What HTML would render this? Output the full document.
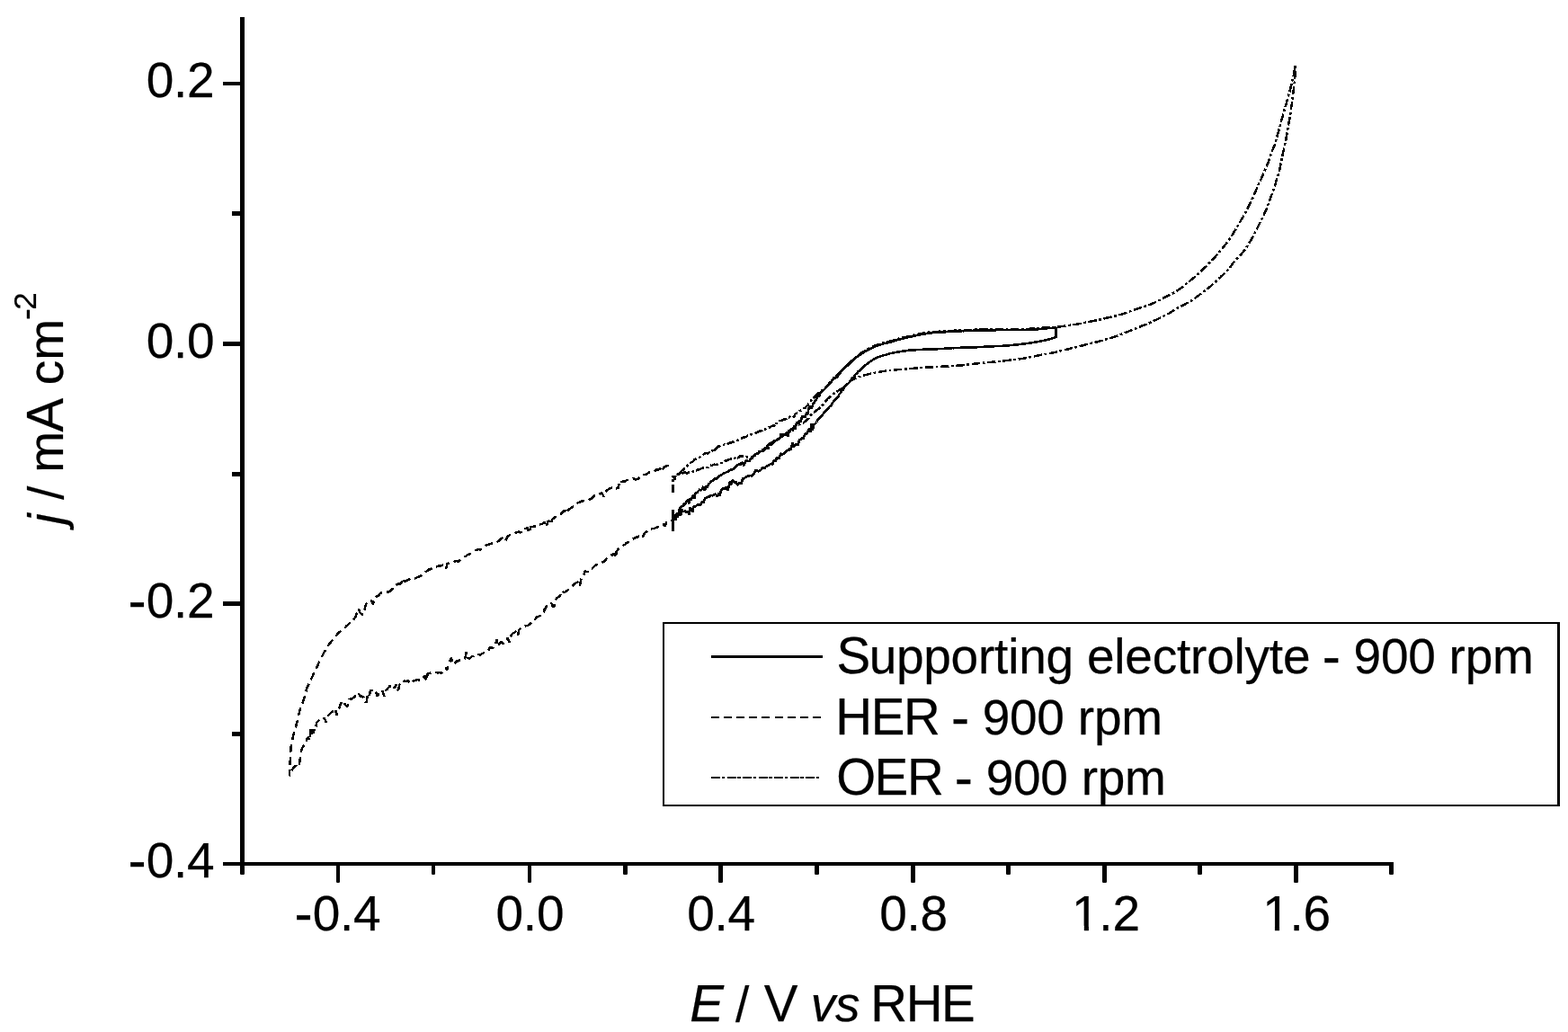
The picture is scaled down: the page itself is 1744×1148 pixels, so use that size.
<!DOCTYPE html>
<html lang="en"><head><meta charset="utf-8"><title>Cyclic voltammograms - 900 rpm</title>
<style>
html,body{margin:0;padding:0;background:#fff;width:1744px;height:1148px;overflow:hidden}
svg{display:block;position:absolute;left:0;top:0}
text{font-family:"Liberation Sans",Arial,Helvetica,sans-serif;fill:#000;stroke:#000;stroke-width:0.25px;stroke-linejoin:round}
.ax{fill:#000;shape-rendering:crispEdges}
.cv{fill:none;stroke:#000;stroke-linejoin:bevel;stroke-linecap:butt}
</style></head><body>
<svg width="1744" height="1148" viewBox="0 0 1744 1148">
<rect x="0" y="0" width="1744" height="1148" fill="#fff"/>

<g class="ax">
<rect x="267" y="19" width="5" height="944"/>
<rect x="248" y="959" width="1302" height="4"/>
<rect x="248" y="91" width="20" height="4"/>
<rect x="258" y="235" width="10" height="5"/>
<rect x="248" y="380" width="20" height="5"/>
<rect x="258" y="525" width="10" height="5"/>
<rect x="248" y="669" width="20" height="5"/>
<rect x="258" y="814" width="10" height="5"/>
</g>
<g fill="#000">
<path d="M267 961V971.8Q267 973 268.2 973H270.8Q272 973 272 971.8V961z"/>
<path d="M374 961V980.8Q374 982 375.2 982H376.8Q378 982 378 980.8V961z"/>
<path d="M480 961V971.8Q480 973 481.2 973H482.8Q484 973 484 971.8V961z"/>
<path d="M587 961V980.8Q587 982 588.2 982H589.8Q591 982 591 980.8V961z"/>
<path d="M693 961V971.8Q693 973 694.2 973H696.8Q698 973 698 971.8V961z"/>
<path d="M799 961V980.8Q799 982 800.2 982H802.8Q804 982 804 980.8V961z"/>
<path d="M906 961V971.8Q906 973 907.2 973H909.8Q911 973 911 971.8V961z"/>
<path d="M1013 961V980.8Q1013 982 1014.2 982H1016.8Q1018 982 1018 980.8V961z"/>
<path d="M1119 961V971.8Q1119 973 1120.2 973H1122.8Q1124 973 1124 971.8V961z"/>
<path d="M1226 961V980.8Q1226 982 1227.2 982H1229.8Q1231 982 1231 980.8V961z"/>
<path d="M1332 961V971.8Q1332 973 1333.2 973H1335.8Q1337 973 1337 971.8V961z"/>
<path d="M1439 961V980.8Q1439 982 1440.2 982H1442.8Q1444 982 1444 980.8V961z"/>
<path d="M1545 961V971.8Q1545 973 1546.2 973H1548.8Q1550 973 1550 971.8V961z"/>
</g>
<text transform="translate(0.00 107.60)" font-size="55.0px" x="162.65 192.91 208.02" y="0" xml:space="preserve">0.2</text>
<text transform="translate(0.00 397.60)" font-size="55.0px" x="162.65 192.91 208.02" y="0" xml:space="preserve">0.0</text>
<text transform="translate(0.00 686.60)" font-size="55.0px" xml:space="preserve"><tspan x="142.61" y="2.36" font-size="60.5px">-</tspan><tspan x="162.65 192.91 208.02" y="0.00">0.2</tspan></text>
<text transform="translate(0.00 975.60)" font-size="55.0px" xml:space="preserve"><tspan x="142.61" y="2.36" font-size="60.5px">-</tspan><tspan x="162.65 192.91 208.02" y="0.00">0.4</tspan></text>
<text transform="translate(0.00 1034.60)" font-size="55.0px" xml:space="preserve"><tspan x="327.61" y="2.36" font-size="60.5px">-</tspan><tspan x="347.65 377.91 393.02" y="0.00">0.4</tspan></text>
<text transform="translate(551.52 1034.60)" font-size="55.0px" x="0.00 30.25 45.37" y="0" xml:space="preserve">0.0</text>
<text transform="translate(764.15 1034.60)" font-size="55.0px" x="0.00 30.25 45.37" y="0" xml:space="preserve">0.4</text>
<text transform="translate(978.14 1034.60)" font-size="55.0px" x="0.00 30.25 45.37" y="0" xml:space="preserve">0.8</text>
<text transform="translate(1192.11 1034.60)" font-size="55.0px" x="0.00 30.25 45.37" y="0" xml:space="preserve">1.2</text>
<rect x="1195.30" y="1029.89" width="10.51" height="6.71" fill="#fff"/>
<rect x="1210.93" y="1029.89" width="10.08" height="6.71" fill="#fff"/>
<text transform="translate(1404.24 1034.60)" font-size="55.0px" x="0.00 30.25 45.37" y="0" xml:space="preserve">1.6</text>
<rect x="1407.42" y="1029.89" width="10.51" height="6.71" fill="#fff"/>
<rect x="1423.06" y="1029.89" width="10.08" height="6.71" fill="#fff"/>
<text transform="translate(0.00 1136.00)" font-size="55.0px" xml:space="preserve"><tspan x="767.26" y="0.00" font-style="italic" font-size="56.5px">E</tspan><tspan x="803.55 817.90 833.01" y="0.00"> / </tspan><tspan x="849.65" y="0.00" font-size="56.5px">V</tspan><tspan x="885.94" y="0.00"> </tspan><tspan x="901.69 928.89" y="0.00" font-style="italic">vs</tspan><tspan x="956.09" y="0.00"> </tspan><tspan x="968.37 1007.65 1046.94" y="0.00" font-size="56.5px">RHE</tspan></text>
<text transform="translate(70.00 589.70) rotate(-90)" font-size="55.0px" xml:space="preserve"><tspan x="6.15" y="0.00" font-style="italic">j</tspan><tspan x="18.24 33.65 48.76 64.05" y="0.00"> / m</tspan><tspan x="109.29" y="0.00" font-size="56.5px">A</tspan><tspan x="145.57 161.46 189.05" y="0.00"> cm</tspan><tspan x="233.69" y="-28.00" font-size="38.5px">-</tspan><tspan x="244.87" y="-30.00" font-size="35.0px">2</tspan></text>
<g class="ax">
<rect x="737" y="692" width="998" height="2"/>
<rect x="737" y="895" width="998" height="2"/>
<rect x="737" y="692" width="2" height="205"/>
<rect x="1732" y="692" width="3" height="205"/>
<rect x="791" y="729" width="124" height="3"/>
</g>
<g class="cv" stroke-width="2" shape-rendering="crispEdges">
<path d="M791 798H914.5" stroke-dasharray="9 5.1"/>
<path d="M791 865H912" stroke-dasharray="10 1.5 3.8 2.2"/>
</g>
<text transform="translate(0.00 749.00)" font-size="55.0px" xml:space="preserve"><tspan x="930.43" y="0.00" font-size="56.5px">S</tspan><tspan x="966.76 997.05 1027.33 1057.62 1087.91 1106.05 1121.18 1133.28 1163.56 1193.85 1208.98 1239.27 1251.37 1281.66 1308.89 1324.02 1342.16 1372.44 1384.54 1411.77 1426.90 1457.19" y="0.00">upporting electrolyte </tspan><tspan x="1470.81" y="2.36" font-size="60.5px">-</tspan><tspan x="1490.46 1505.59 1535.88 1566.16 1596.45 1611.58 1629.72 1660.01" y="0.00"> 900 rpm</tspan></text>
<text transform="translate(0.00 817.00)" font-size="55.0px" xml:space="preserve"><tspan x="929.37 968.69 1005.02" y="0.00" font-size="56.5px">HER</tspan><tspan x="1044.35" y="0.00"> </tspan><tspan x="1057.96" y="2.36" font-size="60.5px">-</tspan><tspan x="1077.61 1092.75 1123.03 1153.32 1183.61 1198.74 1216.88 1247.16" y="0.00"> 900 rpm</tspan></text>
<text transform="translate(0.00 884.00)" font-size="55.0px" xml:space="preserve"><tspan x="930.22 972.58 1008.91" y="0.00" font-size="56.5px">OER</tspan><tspan x="1048.24" y="0.00"> </tspan><tspan x="1061.85" y="2.36" font-size="60.5px">-</tspan><tspan x="1081.50 1096.64 1126.92 1157.21 1187.50 1202.63 1220.77 1251.05" y="0.00"> 900 rpm</tspan></text>
<g class="cv" stroke-width="2.5" shape-rendering="crispEdges">
<path id="her" stroke-dasharray="9 5" d="M743.7 517.6 741.6 518.0 739.7 519.3 738.3 519.9 736.1 524.7 734.3 521.1 732.4 522.6 730.9 522.2 729.3 523.0 727.8 524.7 726.1 525.2 723.8 524.8 722.1 525.5 720.1 526.7 718.1 528.1 716.6 527.9 714.7 528.1 713.2 530.1 711.5 530.8 710.1 532.6 708.4 533.0 706.8 533.4 705.1 532.4 703.3 532.8 700.9 532.8 699.3 533.9 697.5 533.9 695.3 535.6 693.6 535.4 691.4 536.1 690.3 540.8 688.7 538.7 687.9 539.9 687.5 543.2 686.3 543.2 684.8 543.9 683.5 542.3 682.0 542.2 680.3 542.6 678.3 543.4 676.7 544.5 674.8 545.4 673.4 547.4 671.5 552.6 669.5 548.1 667.9 548.9 665.9 550.3 663.8 550.7 662.1 550.9 660.3 552.2 658.9 553.4 657.1 555.3 655.5 555.5 653.5 556.6 651.8 557.3 649.8 556.9 647.4 557.5 646.0 557.9 644.0 559.0 642.3 559.5 640.6 560.7 639.0 562.6 637.1 563.8 635.7 564.6 633.8 566.2 632.1 566.7 630.4 571.3 628.3 567.6 626.5 568.7 624.9 570.6 623.5 572.1 621.7 572.4 620.3 573.2 618.4 574.4 616.4 576.2 614.6 577.0 612.8 583.4 611.1 579.3 609.4 580.2 607.7 586.2 605.9 580.6 604.1 582.2 602.1 583.2 600.4 583.3 598.4 583.7 596.3 585.3 594.4 585.3 592.6 586.1 590.6 585.8 588.4 592.7 586.7 586.4 585.0 588.2 582.9 588.0 581.3 588.6 579.1 592.6 577.5 591.4 575.5 592.2 574.0 592.4 571.9 593.5 570.2 594.6 568.0 594.7 566.4 595.6 564.3 597.2 562.4 601.4 560.7 602.0 558.9 598.2 557.2 599.5 555.6 601.2 554.0 602.0 552.2 603.5 550.6 603.8 548.7 603.9 546.5 604.8 544.6 605.2 542.9 606.1 540.9 606.4 539.1 608.0 537.8 609.7 536.1 609.8 534.2 611.5 532.2 610.9 530.3 611.8 528.5 612.0 526.3 612.7 524.8 613.8 523.3 615.7 521.4 616.7 519.6 617.4 518.1 619.0 516.5 619.3 514.8 621.1 513.2 622.4 511.5 623.3 509.5 624.8 507.8 624.0 505.8 624.7 503.7 625.1 501.7 626.2 499.9 626.9 497.8 626.5 496.0 632.4 493.8 627.9 492.2 628.6 490.1 629.8 488.1 629.2 486.5 630.1 484.3 631.1 482.6 631.0 480.4 632.3 478.8 633.3 477.0 633.3 475.3 635.0 473.6 636.0 471.9 637.1 470.4 638.1 468.8 639.7 467.2 641.2 465.2 641.8 463.5 642.5 461.6 643.3 459.3 643.8 457.5 643.5 455.6 644.4 454.1 644.9 452.0 645.8 450.0 647.0 448.3 643.4 446.6 648.1 444.8 649.8 442.9 649.5 440.9 650.5 439.6 652.4 438.0 653.0 436.4 655.2 434.9 656.5 433.4 657.9 431.9 658.4 429.8 658.2 428.0 658.8 425.7 659.1 423.8 659.4 422.4 660.5 421.0 662.8 419.6 663.2 418.1 664.5 416.4 666.0 414.8 672.2 413.1 667.8 411.1 669.0 409.4 669.8 408.0 670.7 407.0 672.1 406.5 674.1 406.1 675.8 405.3 678.7 404.9 679.4 404.5 681.4 403.7 683.6 402.4 683.4 401.7 682.5 400.4 681.4 398.8 676.9 397.7 681.0 396.6 682.7 395.9 685.3 394.9 687.0 393.9 688.4 392.5 690.7 391.3 692.2 389.8 692.2 388.3 693.7 386.7 695.3 385.2 696.5 383.5 698.4 382.0 699.4 380.5 699.9 379.0 702.0 377.5 703.1 376.1 704.7 374.7 706.0 373.4 707.8 372.2 709.0 370.8 710.5 369.6 712.2 368.3 713.7 367.0 715.5 365.7 717.1 364.6 718.4 363.5 720.1 362.4 721.9 361.6 723.7 360.6 725.5 359.7 727.2 358.8 728.9 357.9 731.1 357.1 732.9 356.1 734.4 355.2 736.2 354.3 738.1 353.5 740.1 352.5 742.0 351.6 743.7 350.8 745.2 350.0 747.1 349.1 748.9 348.3 750.6 347.4 752.7 346.6 754.3 345.7 756.1 344.8 758.0 343.9 760.0 343.0 761.9 342.2 763.4 341.4 765.5 340.8 767.2 340.4 769.1 339.9 770.9 339.4 773.0 338.9 775.0 338.3 777.1 337.6 779.1 337.0 780.6 336.3 782.6 335.6 784.6 334.8 786.5 334.0 788.3 333.4 790.2 333.0 792.0 332.5 794.1 332.1 796.1 331.6 798.0 331.2 800.2 330.8 802.1 330.2 804.0 329.7 805.6 329.2 807.7 328.7 810.0 328.1 811.8 327.4 813.4 327.0 815.4 326.4 817.6 325.9 819.6 325.5 821.4 325.2 823.5 324.8 825.6 324.4 827.4 324.0 829.5 323.6 831.3 323.4 833.2 323.3 835.3 323.2 837.1 323.0 839.4 323.0 841.4 322.8 843.4 322.8 845.3 322.7 847.2 322.6 849.1 322.5 851.3 322.4 853.1 322.2 855.5 322.1 857.2 322.0 859.1 321.8 861.4 321.8 863.3 322.6 861.2 323.5 860.0 324.2 857.6 325.0 855.8 326.2 854.6 327.2 853.0 328.7 851.7 329.9 851.8 330.9 852.7 331.9 853.3 332.4 853.1 332.9 851.4 333.1 849.4 333.3 847.2 333.6 845.0 334.0 842.8 334.3 841.2 334.7 839.6 334.9 836.7 335.2 835.0 335.6 833.4 336.8 830.7 337.6 830.1 338.5 827.6 340.0 826.7 340.3 825.0 341.5 822.3 342.3 820.7 342.9 819.7 343.9 824.0 344.9 820.7 345.8 809.0 346.7 816.8 347.8 809.5 348.9 815.4 349.9 807.7 351.3 808.6 352.1 804.3 353.7 802.0 355.4 801.1 357.5 799.8 359.4 800.5 360.9 798.8 362.6 803.7 364.0 796.8 365.7 795.3 367.2 793.6 369.1 792.1 370.9 790.9 372.8 788.2 374.4 795.9 376.0 789.7 377.5 787.3 379.4 781.4 380.4 785.4 382.2 784.2 383.5 783.0 385.1 785.0 386.5 786.1 388.4 778.1 389.9 777.2 391.6 777.5 393.3 775.9 395.4 774.3 397.2 774.3 398.8 771.2 400.9 775.0 402.5 774.4 404.1 775.3 405.3 777.5 405.9 778.4 406.5 781.2 407.2 781.1 407.7 781.0 407.8 779.5 408.0 777.0 408.6 776.1 408.7 773.9 409.5 771.0 410.8 773.5 412.1 768.2 413.9 768.2 415.9 767.1 417.5 767.5 419.8 774.7 421.8 769.1 423.6 768.2 425.7 769.1 427.4 774.9 428.8 767.8 430.4 766.9 431.7 765.5 433.5 763.2 435.1 763.6 436.8 761.6 438.9 765.9 440.9 761.1 442.9 768.2 444.4 761.7 446.1 759.5 448.0 759.8 449.3 757.2 451.2 757.9 453.0 757.4 454.4 757.3 456.1 760.5 458.4 758.9 460.0 757.6 461.9 757.1 463.7 756.0 465.3 756.0 467.1 757.0 468.8 755.6 470.6 755.0 471.5 753.3 472.5 751.2 474.3 757.8 475.7 748.9 477.6 748.9 479.5 748.5 481.3 747.9 482.8 747.8 484.8 747.9 486.9 748.6 488.5 747.8 490.3 748.9 491.8 748.0 493.5 746.4 494.8 745.1 496.3 743.1 497.2 745.8 498.2 739.9 499.9 737.8 501.5 731.9 503.4 736.2 505.3 739.3 507.4 735.2 509.0 735.7 510.8 734.5 513.1 734.1 515.0 734.4 516.9 733.8 518.7 725.4 520.8 732.6 522.7 732.2 524.3 730.5 526.7 729.8 528.2 729.0 530.1 729.9 532.3 727.9 533.9 728.6 536.4 727.1 538.2 726.2 539.8 725.6 542.0 725.6 543.2 723.6 544.6 720.0 546.1 720.7 547.6 721.0 548.9 719.6 550.7 718.3 552.3 711.6 554.1 719.3 555.8 714.9 557.9 714.5 559.7 716.0 561.3 711.7 563.3 710.9 564.8 709.4 566.3 714.4 567.5 708.2 569.3 705.8 570.9 704.3 572.4 703.5 574.3 701.8 576.1 706.4 577.5 700.3 579.3 698.8 580.8 698.7 582.7 697.6 584.6 696.2 586.7 696.1 588.4 694.7 590.1 694.1 591.1 692.1 592.5 691.0 593.4 688.9 595.3 688.8 596.8 686.6 598.9 685.7 600.7 685.0 602.0 684.9 603.6 682.6 604.2 681.2 605.3 680.2 605.5 677.6 607.0 676.4 607.9 674.1 609.7 673.6 611.6 673.2 613.3 670.9 614.7 674.9 616.3 674.3 617.9 667.7 619.1 665.5 620.7 664.3 622.3 663.3 623.5 661.6 625.3 656.9 627.0 659.4 628.3 658.5 630.0 657.5 631.6 656.3 633.4 654.9 634.9 653.8 636.2 652.1 637.7 650.6 639.3 649.2 640.8 648.2 642.3 647.7 643.6 646.3 645.0 651.5 646.5 643.1 648.0 640.9 649.5 639.4 650.5 635.0 652.0 635.9 653.7 635.9 655.1 633.9 656.9 632.3 658.7 632.3 660.1 631.0 661.8 629.3 663.5 628.3 665.6 628.1 667.4 628.0 669.3 627.1 670.9 624.6 672.3 624.9 673.7 622.4 675.1 621.2 676.1 619.3 678.0 619.2 679.7 617.2 681.4 617.4 683.0 615.5 684.6 621.0 685.8 613.3 687.4 611.1 688.9 610.0 690.4 609.0 691.6 608.1 693.6 606.3 695.3 606.0 696.7 603.8 698.3 603.5 700.2 603.0 702.2 600.3 703.9 599.4 705.3 599.2 707.4 597.5 709.3 597.7 710.9 596.0 713.0 595.0 714.6 597.5 716.5 594.0 717.7 592.3 719.7 591.0 721.3 589.9 722.6 588.9 724.3 588.3 726.6 588.2 728.5 587.5 730.4 586.6 731.9 586.2 734.1 584.1 735.6 583.9 737.6 583.1 739.5 585.3 741.3 580.8 743.2 579.7 744.7 580.3 746.7 578.8 748.5 578.0"/>
<path id="oer" stroke-dasharray="9.4 2.6 2.8 2.6" d="M748.5 548.0 748.5 529.5 750.3 533.2 751.4 529.0 752.9 528.2 754.2 528.1 755.9 526.6 757.1 526.8 758.4 526.6 759.9 526.3 761.3 525.4 762.8 525.6 764.2 526.5 765.7 525.6 767.2 525.5 768.9 525.4 770.1 525.4 771.5 523.9 773.3 523.4 774.6 523.4 775.8 522.4 777.2 522.6 778.6 522.0 780.4 521.1 781.8 520.5 782.9 520.2 784.6 520.0 785.9 520.1 787.4 519.8 788.9 518.7 790.2 517.7 791.7 517.8 793.2 517.2 794.4 516.5 796.0 517.2 797.6 516.8 799.1 516.1 800.5 515.6 801.6 515.0 802.9 515.1 804.6 514.6 805.6 514.0 807.2 512.2 808.6 512.5 809.9 511.4 811.6 510.9 813.1 510.5 814.6 511.0 815.9 509.7 817.0 510.1 818.4 508.3 820.0 508.5 821.2 509.8 822.6 507.3 824.2 508.0 825.6 506.8 827.0 507.8 828.5 508.5 830.0 508.2 831.5 508.7 833.0 508.6 834.3 508.1 835.9 509.2 837.3 508.6 838.4 507.1 839.4 507.2 840.6 505.6 842.0 504.6 843.4 502.3 844.6 502.9 846.0 503.6 847.1 501.7 848.4 501.9 849.9 500.2 850.8 500.4 851.6 498.6 852.5 497.7 853.5 496.4 854.4 499.2 855.8 494.2 857.2 495.5 858.5 493.7 859.8 492.8 860.8 492.0 862.1 490.2 863.3 489.4 864.6 488.4 865.8 488.1 867.0 486.7 868.3 485.9 869.5 485.9 870.9 485.0 872.4 484.1 873.5 483.5 874.9 484.5 876.0 481.2 877.1 480.0 878.2 479.7 879.4 481.1 880.7 478.2 881.7 476.5 882.7 475.1 883.8 474.3 885.2 473.3 886.3 474.7 887.8 473.0 888.9 472.4 890.4 471.7 891.8 471.0 893.4 470.8 894.6 469.2 895.5 469.2 896.9 467.6 897.9 466.5 899.0 465.7 899.7 465.2 900.6 463.4 901.5 462.2 902.5 461.1 903.6 460.1 904.7 459.1 905.9 458.2 907.1 457.3 908.3 456.4 909.5 455.5 910.7 454.6 911.8 453.6 912.9 452.6 914.0 451.5 915.1 450.5 916.1 449.4 917.0 448.2 917.9 447.0 918.8 445.8 919.7 444.6 920.7 443.5 921.8 442.5 922.9 441.5 924.0 440.5 925.2 439.6 926.4 438.7 927.6 437.8 928.8 436.9 930.1 436.0 931.3 435.2 932.6 434.5 933.9 433.7 935.2 433.0 936.4 432.1 937.6 431.3 938.8 430.3 939.8 429.2 940.9 428.2 942.0 427.2 943.1 426.2 944.3 425.2 945.5 424.3 946.7 423.4 947.9 422.5 949.2 421.8 950.5 421.1 951.9 420.5 953.3 420.0 954.7 419.4 956.1 419.0 957.5 418.5 959.0 418.1 960.4 417.7 961.9 417.3 963.3 416.9 964.8 416.5 966.3 416.2 967.7 415.9 969.2 415.5 970.7 415.2 972.1 414.9 973.6 414.6 975.1 414.3 976.6 414.0 978.0 413.8 979.5 413.5 981.0 413.2 982.5 413.0 984.0 412.7 985.4 412.5 986.9 412.4 988.4 412.2 989.9 412.1 991.4 411.9 992.9 411.8 994.4 411.6 995.9 411.5 997.4 411.3 998.9 411.2 1000.4 411.1 1001.9 411.0 1003.4 410.9 1004.9 410.7 1006.4 410.6 1007.9 410.5 1009.4 410.4 1010.9 410.2 1012.4 410.1 1013.9 409.9 1015.4 409.8 1016.9 409.6 1018.4 409.5 1019.9 409.3 1021.4 409.2 1022.9 409.1 1024.4 409.0 1025.9 408.9 1027.4 408.8 1028.9 408.7 1030.4 408.7 1031.9 408.6 1033.4 408.5 1034.9 408.4 1036.4 408.4 1037.9 408.3 1039.4 408.2 1040.9 408.1 1042.4 408.1 1043.9 408.0 1045.4 407.9 1046.9 407.8 1048.4 407.7 1049.9 407.7 1051.4 407.6 1052.9 407.5 1054.4 407.4 1055.9 407.3 1057.4 407.2 1058.9 407.1 1060.4 407.0 1061.9 406.9 1063.4 406.8 1064.9 406.7 1066.4 406.6 1067.9 406.5 1069.4 406.4 1070.9 406.2 1072.4 406.0 1073.9 405.8 1075.4 405.7 1076.9 405.5 1078.4 405.3 1079.9 405.1 1081.4 405.0 1082.8 404.8 1084.3 404.6 1085.8 404.5 1087.3 404.3 1088.8 404.2 1090.3 404.0 1091.8 403.9 1093.3 403.7 1094.8 403.6 1096.3 403.4 1097.8 403.3 1099.3 403.1 1100.8 403.0 1102.3 402.8 1103.8 402.7 1105.3 402.5 1106.8 402.4 1108.3 402.2 1109.8 402.1 1111.3 401.9 1112.8 401.8 1114.3 401.6 1115.8 401.5 1117.3 401.3 1118.8 401.2 1120.2 401.0 1121.7 400.8 1123.2 400.6 1124.7 400.5 1126.2 400.3 1127.7 400.1 1129.2 399.9 1130.7 399.7 1132.2 399.6 1133.7 399.4 1135.2 399.2 1136.7 399.0 1138.1 398.7 1139.6 398.5 1141.1 398.2 1142.6 397.9 1144.0 397.6 1145.5 397.3 1147.0 397.0 1148.5 396.7 1149.9 396.4 1151.4 396.1 1152.9 395.8 1154.4 395.5 1155.8 395.2 1157.3 395.0 1158.8 394.7 1160.3 394.4 1161.8 394.2 1163.2 393.9 1164.7 393.6 1166.2 393.4 1167.7 393.1 1169.2 392.8 1170.6 392.5 1172.1 392.2 1173.6 391.9 1175.0 391.6 1176.5 391.2 1178.0 390.8 1179.4 390.5 1180.9 390.1 1182.3 389.7 1183.8 389.4 1185.2 389.0 1186.7 388.6 1188.2 388.3 1189.6 387.9 1191.1 387.5 1192.5 387.2 1194.0 386.8 1195.5 386.5 1196.9 386.1 1198.4 385.7 1199.8 385.4 1201.3 385.0 1202.8 384.6 1204.2 384.3 1205.7 383.9 1207.1 383.5 1208.6 383.2 1210.0 382.8 1211.5 382.4 1213.0 382.1 1214.4 381.7 1215.9 381.3 1217.3 381.0 1218.8 380.6 1220.3 380.3 1221.7 379.9 1223.2 379.5 1224.6 379.1 1226.1 378.7 1227.5 378.3 1228.9 377.8 1230.4 377.4 1231.8 377.0 1233.3 376.5 1234.7 376.1 1236.1 375.7 1237.6 375.2 1239.0 374.8 1240.5 374.3 1241.9 373.8 1243.3 373.3 1244.7 372.8 1246.1 372.2 1247.5 371.7 1248.9 371.1 1250.3 370.6 1251.7 370.0 1253.1 369.4 1254.5 368.9 1255.9 368.3 1257.3 367.8 1258.6 367.2 1260.0 366.6 1261.4 366.1 1262.8 365.5 1264.2 365.0 1265.6 364.4 1267.0 363.9 1268.4 363.3 1269.8 362.7 1271.2 362.2 1272.6 361.6 1274.0 361.1 1275.4 360.5 1276.8 359.9 1278.2 359.3 1279.5 358.7 1280.9 358.1 1282.3 357.4 1283.6 356.8 1285.0 356.2 1286.3 355.5 1287.7 354.9 1289.0 354.2 1290.4 353.5 1291.8 352.9 1293.1 352.2 1294.5 351.6 1295.8 350.9 1297.2 350.3 1298.5 349.6 1299.8 348.9 1301.1 348.1 1302.4 347.3 1303.7 346.5 1304.9 345.7 1306.2 344.9 1307.5 344.1 1308.8 343.3 1310.1 342.6 1311.4 341.8 1312.7 341.1 1314.0 340.5 1315.4 339.8 1316.7 339.1 1318.1 338.4 1319.4 337.7 1320.7 336.9 1322.0 336.2 1323.3 335.4 1324.6 334.7 1325.8 333.9 1327.1 333.0 1328.3 332.2 1329.6 331.3 1330.8 330.4 1332.0 329.5 1333.2 328.6 1334.4 327.7 1335.6 326.8 1336.8 325.9 1338.0 325.0 1339.2 324.1 1340.4 323.2 1341.6 322.3 1342.8 321.4 1343.9 320.4 1345.1 319.5 1346.3 318.5 1347.4 317.6 1348.6 316.6 1349.7 315.6 1350.9 314.6 1352.0 313.6 1353.1 312.6 1354.2 311.6 1355.2 310.5 1356.3 309.4 1357.4 308.4 1358.4 307.3 1359.5 306.3 1360.6 305.3 1361.8 304.3 1362.9 303.3 1364.0 302.3 1365.0 301.2 1366.0 300.1 1367.0 298.9 1367.9 297.7 1368.8 296.5 1369.7 295.3 1370.5 294.1 1371.4 292.9 1372.3 291.7 1373.3 290.5 1374.3 289.4 1375.3 288.3 1376.4 287.3 1377.5 286.2 1378.5 285.1 1379.5 284.0 1380.5 282.9 1381.5 281.7 1382.4 280.6 1383.4 279.4 1384.3 278.2 1385.2 277.0 1386.0 275.8 1386.8 274.5 1387.6 273.2 1388.4 271.9 1389.2 270.6 1389.9 269.4 1390.7 268.1 1391.5 266.8 1392.3 265.5 1393.0 264.2 1393.8 262.9 1394.5 261.6 1395.2 260.2 1395.8 258.9 1396.5 257.5 1397.2 256.2 1397.9 254.8 1398.5 253.5 1399.2 252.2 1399.9 250.8 1400.5 249.5 1401.2 248.1 1401.9 246.8 1402.6 245.4 1403.2 244.1 1403.9 242.7 1404.6 241.4 1405.2 240.0 1405.9 238.7 1406.5 237.3 1407.1 236.0 1407.7 234.6 1408.3 233.2 1408.9 231.8 1409.5 230.4 1410.0 229.0 1410.5 227.6 1411.1 226.2 1411.6 224.8 1412.1 223.4 1412.6 221.9 1413.1 220.5 1413.6 219.1 1414.1 217.7 1414.6 216.3 1415.1 214.9 1415.6 213.4 1416.1 212.0 1416.6 210.6 1417.1 209.2 1417.5 207.8 1418.0 206.3 1418.4 204.9 1418.9 203.4 1419.3 202.0 1419.8 200.6 1420.2 199.1 1420.6 197.7 1421.1 196.3 1421.5 194.8 1422.0 193.4 1422.4 191.9 1422.8 190.5 1423.1 189.0 1423.5 187.6 1423.8 186.1 1424.1 184.6 1424.4 183.2 1424.7 181.7 1425.0 180.2 1425.3 178.7 1425.5 177.2 1425.8 175.8 1426.1 174.3 1426.4 172.8 1426.7 171.3 1427.0 169.9 1427.4 168.4 1427.8 167.0 1428.1 165.5 1428.4 164.0 1428.8 162.6 1429.1 161.1 1429.4 159.6 1429.7 158.2 1430.0 156.7 1430.3 155.2 1430.6 153.7 1430.8 152.2 1431.1 150.8 1431.3 149.3 1431.6 147.8 1431.8 146.3 1432.1 144.8 1432.3 143.3 1432.6 141.9 1432.8 140.4 1433.1 138.9 1433.4 137.4 1433.6 135.9 1433.9 134.5 1434.2 133.0 1434.4 131.5 1434.7 130.0 1434.9 128.5 1435.2 127.1 1435.4 125.6 1435.6 124.1 1435.8 122.6 1436.0 121.1 1436.2 119.6 1436.4 118.1 1436.7 116.6 1436.9 115.1 1437.1 113.7 1437.3 112.2 1437.5 110.7 1437.7 109.2 1437.8 107.7 1438.0 106.2 1438.2 104.7 1438.4 103.2 1438.6 101.7 1438.8 100.2 1439.0 98.7 1439.2 97.3 1439.3 95.8 1439.5 94.3 1439.7 92.8 1439.8 91.3 1439.9 89.8 1440.1 88.3 1440.2 86.8 1440.3 85.3 1440.5 83.8 1440.5 82.3 1440.6 80.8 1440.6 79.3 1440.6 77.8 1440.5 76.3 1440.5 75.1 1440.4 73.3 1440.4 73.3 1440.2 75.1 1440.0 76.3 1439.8 77.7 1439.6 79.2 1439.4 80.7 1439.1 82.2 1438.8 83.7 1438.4 85.1 1438.1 86.6 1437.7 88.0 1437.4 89.5 1437.0 91.0 1436.7 92.4 1436.4 93.9 1436.1 95.4 1435.7 96.8 1435.4 98.3 1435.0 99.8 1434.6 101.2 1434.2 102.7 1433.8 104.1 1433.4 105.6 1433.0 107.0 1432.6 108.4 1432.1 109.9 1431.7 111.3 1431.3 112.8 1430.9 114.2 1430.5 115.7 1430.1 117.1 1429.7 118.6 1429.3 120.0 1428.8 121.5 1428.4 122.9 1428.0 124.4 1427.6 125.8 1427.2 127.2 1426.8 128.7 1426.4 130.1 1425.9 131.6 1425.5 133.0 1425.1 134.5 1424.7 135.9 1424.4 137.4 1424.0 138.8 1423.6 140.3 1423.2 141.8 1422.8 143.2 1422.5 144.7 1422.1 146.1 1421.6 147.6 1421.2 149.0 1420.8 150.4 1420.4 151.9 1420.0 153.3 1419.6 154.8 1419.2 156.2 1418.8 157.7 1418.3 159.1 1417.9 160.6 1417.4 162.0 1416.9 163.4 1416.3 164.8 1415.7 166.2 1415.1 167.5 1414.5 168.9 1414.0 170.3 1413.5 171.7 1413.0 173.1 1412.5 174.6 1412.1 176.0 1411.6 177.4 1411.2 178.9 1410.7 180.3 1410.1 181.7 1409.6 183.1 1409.0 184.5 1408.5 185.9 1407.9 187.3 1407.2 188.6 1406.6 190.0 1406.0 191.4 1405.4 192.7 1404.8 194.1 1404.3 195.5 1403.7 196.9 1403.0 198.3 1402.4 199.6 1401.7 201.0 1401.1 202.3 1400.4 203.7 1399.8 205.0 1399.2 206.4 1398.6 207.8 1398.0 209.2 1397.4 210.6 1396.9 212.0 1396.3 213.4 1395.7 214.7 1395.1 216.1 1394.6 217.5 1394.0 218.9 1393.4 220.3 1392.7 221.6 1392.1 223.0 1391.4 224.4 1390.7 225.7 1390.1 227.0 1389.4 228.4 1388.7 229.7 1388.0 231.1 1387.3 232.4 1386.6 233.7 1385.9 235.1 1385.2 236.4 1384.5 237.7 1383.8 239.0 1383.1 240.3 1382.3 241.6 1381.5 242.9 1380.8 244.2 1380.0 245.5 1379.2 246.8 1378.4 248.1 1377.6 249.4 1376.9 250.7 1376.1 251.9 1375.3 253.3 1374.6 254.6 1373.9 255.9 1373.1 257.2 1372.3 258.5 1371.6 259.8 1370.8 261.0 1370.0 262.3 1369.1 263.5 1368.3 264.8 1367.5 266.0 1366.6 267.3 1365.7 268.5 1364.8 269.7 1363.9 270.9 1363.0 272.1 1362.0 273.2 1361.1 274.4 1360.1 275.6 1359.2 276.7 1358.2 277.9 1357.2 279.0 1356.3 280.2 1355.3 281.4 1354.3 282.5 1353.4 283.6 1352.4 284.8 1351.4 285.9 1350.4 287.0 1349.3 288.1 1348.3 289.2 1347.3 290.3 1346.3 291.4 1345.2 292.5 1344.2 293.6 1343.1 294.6 1342.1 295.7 1341.0 296.8 1339.9 297.8 1338.9 298.9 1337.8 299.9 1336.7 301.0 1335.6 302.0 1334.5 303.0 1333.4 304.0 1332.3 305.0 1331.1 306.0 1330.0 307.0 1328.9 308.0 1327.7 309.0 1326.5 309.9 1325.4 310.9 1324.2 311.8 1323.0 312.8 1321.9 313.7 1320.7 314.7 1319.5 315.6 1318.4 316.6 1317.2 317.5 1316.1 318.5 1314.9 319.4 1313.7 320.4 1312.5 321.3 1311.3 322.1 1310.0 323.0 1308.8 323.8 1307.5 324.6 1306.2 325.4 1304.9 326.1 1303.6 326.8 1302.2 327.5 1300.9 328.1 1299.6 328.8 1298.2 329.5 1296.9 330.2 1295.5 330.8 1294.2 331.5 1292.8 332.2 1291.5 332.9 1290.2 333.6 1288.8 334.3 1287.5 335.0 1286.2 335.7 1284.8 336.4 1283.5 337.0 1282.1 337.6 1280.7 338.1 1279.3 338.7 1277.9 339.2 1276.5 339.7 1275.0 340.2 1273.6 340.7 1272.2 341.1 1270.8 341.6 1269.4 342.1 1267.9 342.6 1266.5 343.1 1265.1 343.6 1263.7 344.0 1262.2 344.5 1260.8 345.0 1259.4 345.5 1258.0 346.0 1256.6 346.5 1255.1 347.0 1253.7 347.5 1252.3 348.0 1250.9 348.5 1249.5 349.0 1248.0 349.4 1246.6 349.9 1245.1 350.3 1243.7 350.7 1242.2 351.1 1240.8 351.5 1239.3 351.8 1237.9 352.1 1236.4 352.4 1234.9 352.7 1233.4 353.1 1232.0 353.4 1230.5 353.8 1229.1 354.1 1227.6 354.5 1226.1 354.9 1224.7 355.2 1223.2 355.6 1221.7 355.9 1220.3 356.2 1218.8 356.5 1217.3 356.8 1215.8 357.1 1214.4 357.4 1212.9 357.7 1211.4 358.0 1210.0 358.2 1208.5 358.5 1207.0 358.8 1205.5 359.1 1204.1 359.4 1202.6 359.7 1201.1 360.0 1199.6 360.3 1198.1 360.6 1196.7 360.8 1195.2 361.0 1193.7 361.2 1192.2 361.5 1190.7 361.7 1189.2 361.9 1187.7 362.1 1186.2 362.3 1184.8 362.5 1183.3 362.7 1181.8 362.9 1180.3 363.2 1178.8 363.4 1177.3 363.6 1175.8 363.8 1174.3 364.0 1172.8 364.1 1171.3 364.2 1169.8 364.2 1168.3 364.3 1166.8 364.3 1165.3 364.3 1163.8 364.4 1162.3 364.5 1160.8 364.6 1159.3 364.7 1157.8 364.9 1156.3 365.0 1154.8 365.2 1153.3 365.3 1151.8 365.4 1150.3 365.5 1148.8 365.6 1147.3 365.6 1145.8 365.7 1144.3 365.8 1142.8 365.8 1141.3 365.8 1139.8 365.9 1138.3 365.9 1136.8 365.9 1135.3 366.0 1133.8 366.0 1132.3 366.0 1130.8 366.1 1129.3 366.1 1127.8 366.1 1126.3 366.1 1124.8 366.1 1123.3 366.1 1121.8 366.1 1120.3 366.1 1118.8 366.1 1117.3 366.1 1115.8 366.1 1114.3 366.1 1112.8 366.1 1111.3 366.1 1109.8 366.1 1108.2 366.2 1106.7 366.2 1105.2 366.2 1103.7 366.2 1102.2 366.3 1100.7 366.3 1099.2 366.3 1097.7 366.4 1096.2 366.4 1094.7 366.4 1093.2 366.5 1091.7 366.5 1090.2 366.5 1088.7 366.6 1087.2 366.6 1085.7 366.7 1084.2 366.7 1082.7 366.8 1081.2 366.8 1079.7 366.9 1078.2 366.9 1076.7 367.0 1075.2 367.0 1073.7 367.1 1072.2 367.2 1070.7 367.2 1069.2 367.3 1067.7 367.4 1066.2 367.5 1064.7 367.5 1063.2 367.6 1061.7 367.7 1060.2 367.8 1058.7 367.9 1057.1 367.9 1055.6 368.0 1054.1 368.1 1052.6 368.2 1051.1 368.3 1049.6 368.4 1048.1 368.5 1046.6 368.6 1045.1 368.7 1043.6 368.8 1042.1 368.9 1040.6 369.0 1039.1 369.1 1037.6 369.2 1036.1 369.3 1034.6 369.4 1033.1 369.6 1031.7 369.8 1030.2 370.0 1028.7 370.3 1027.2 370.6 1025.8 370.9 1024.3 371.2 1022.8 371.5 1021.3 371.8 1019.9 372.1 1018.4 372.4 1016.9 372.7 1015.4 373.0 1014.0 373.3 1012.5 373.7 1011.0 374.0 1009.6 374.3 1008.1 374.7 1006.6 375.0 1005.2 375.4 1003.7 375.7 1002.2 376.0 1000.8 376.4 999.3 376.7 997.9 377.1 996.4 377.5 995.0 378.0 993.6 378.5 992.2 379.0 990.7 379.4 989.3 379.8 987.8 380.1 986.3 380.5 984.9 380.8 983.4 381.1 982.0 381.5 980.5 381.9 979.1 382.4 977.7 382.9 976.3 383.4 974.8 383.9 973.4 384.5 972.1 385.0 970.7 385.6 969.3 386.3 968.0 386.9 966.6 387.6 965.3 388.3 964.0 389.0 962.7 389.8 961.4 390.5 960.1 391.3 958.8 392.1 957.6 392.9 956.4 393.8 955.2 394.7 954.0 395.7 952.8 396.6 951.7 397.6 950.5 398.6 949.4 399.5 948.3 400.5 947.1 401.5 946.0 402.6 944.9 403.6 943.8 404.6 942.7 405.6 941.6 406.6 940.4 407.6 939.3 408.6 938.3 409.7 937.2 410.7 936.2 411.8 935.1 412.9 934.1 414.0 933.1 415.1 932.1 416.2 931.1 417.3 930.0 418.4 929.0 419.5 927.9 420.5 926.8 421.6 925.8 422.7 924.7 423.8 923.7 424.9 922.7 426.0 921.7 427.1 920.7 428.2 919.6 429.3 918.6 430.4 917.5 431.4 916.5 432.5 915.4 433.5 914.2 434.4 913.0 435.2 911.8 436.1 910.7 437.0 909.7 437.9 908.6 438.9 907.7 440.0 906.6 441.1 905.5 442.0 904.3 443.0 903.3 444.0 902.3 445.2 901.5 446.4 900.7 447.6 899.9 449.0 898.9 449.7 897.8 451.7 897.0 451.6 895.8 453.6 894.5 453.9 893.2 454.9 892.2 455.6 891.1 456.7 889.4 456.8 888.5 458.1 887.2 459.0 885.6 459.9 884.2 460.7 883.0 464.4 881.6 462.3 880.5 462.1 879.0 463.2 877.9 464.3 876.1 464.6 874.8 465.5 873.5 466.2 872.2 466.7 870.8 466.7 869.5 468.0 867.9 467.7 866.8 468.4 865.8 470.4 864.3 470.9 863.2 471.5 861.9 474.6 860.6 472.7 859.1 474.2 857.9 474.2 856.5 475.5 855.1 475.5 853.8 476.1 852.4 477.2 851.1 477.5 849.7 477.1 848.1 478.8 846.8 479.4 845.5 479.3 843.8 480.0 842.4 481.0 841.4 481.3 839.7 482.0 838.3 482.4 837.1 483.2 835.7 483.2 834.2 483.6 832.8 484.2 831.3 484.5 830.0 485.9 828.4 486.5 827.2 486.4 825.7 487.5 824.4 487.8 823.1 487.8 821.5 489.3 820.1 489.7 818.7 490.4 817.4 490.9 816.2 491.6 814.6 491.2 813.4 492.5 812.0 492.0 810.5 493.3 808.9 494.0 807.6 494.8 805.9 494.3 804.5 495.2 803.3 495.2 801.6 495.5 800.4 496.6 799.3 496.4 798.0 497.3 796.8 498.8 795.9 499.8 794.9 500.9 793.7 499.2 792.1 501.7 791.0 503.3 789.4 502.9 787.7 504.4 786.6 504.5 785.0 504.0 783.6 504.8 782.5 505.7 781.1 506.5 779.8 507.8 778.4 508.5 777.2 509.2 775.9 509.2 774.9 510.2 773.4 510.9 771.9 511.6 771.0 513.4 769.6 513.8 768.5 514.7 767.6 516.0 766.4 517.1 765.0 517.5 764.0 519.0 762.9 519.2 761.7 520.0 760.5 522.1 759.6 522.9 758.4 523.5 757.5 525.5 756.4 525.7 755.6 528.8 754.0 527.3 753.0 528.4 751.7 529.8 750.4 529.8 748.8 530.1"/>
<path id="sol" stroke-width="2.6" d="M748.5 567.0 748.5 590.7 748.5 577.0 749.6 575.9 751.1 575.6 751.8 572.2 752.1 572.6 753.3 570.9 754.5 572.7 755.2 569.3 755.6 566.4 756.5 564.8 757.9 564.1 758.4 563.0 759.6 562.8 760.5 561.7 760.9 559.5 761.8 561.5 763.1 558.3 764.2 557.7 765.1 555.8 766.2 560.2 767.8 554.6 768.6 556.0 770.4 552.6 771.3 550.6 772.8 554.9 773.4 548.1 775.2 548.0 776.1 547.1 777.0 546.0 778.5 544.3 779.0 545.7 780.4 544.7 781.9 541.8 782.5 541.4 783.8 545.9 785.4 540.4 786.9 542.1 788.2 537.6 789.1 538.2 790.3 536.4 791.3 535.0 793.1 534.3 793.8 534.1 795.3 531.7 796.5 532.8 797.7 531.7 798.9 530.9 800.3 528.8 801.7 529.1 802.3 528.2 804.0 527.1 805.3 526.1 806.6 526.2 807.6 525.3 809.2 524.8 810.4 524.5 812.0 522.7 813.3 523.1 814.3 521.9 816.0 521.5 817.4 519.9 818.2 519.7 819.9 517.7 821.2 517.0 822.2 515.8 823.4 517.5 824.9 514.3 826.2 515.2 827.7 518.1 829.1 512.9 830.2 512.2 831.9 512.9 833.1 513.2 834.2 512.0 835.4 509.2 836.6 510.3 837.2 507.7 838.8 506.1 840.2 505.2 840.9 504.9 842.2 503.9 843.7 504.8 844.9 502.3 846.7 502.0 847.6 501.6 848.8 499.8 850.3 499.4 850.9 497.6 851.8 498.9 853.3 496.1 853.9 495.1 855.2 495.0 856.1 492.8 857.3 493.1 858.7 492.3 859.7 492.1 861.6 489.9 862.2 490.7 863.8 489.6 865.0 488.6 866.2 488.3 867.4 487.3 868.8 482.7 870.4 484.3 871.4 483.1 872.4 483.2 873.6 482.6 875.4 480.8 876.8 485.6 877.7 477.8 878.5 480.0 879.7 477.3 880.8 477.2 881.8 479.1 883.4 473.6 884.3 477.4 885.2 472.6 886.1 470.3 887.7 470.7 888.2 469.4 889.6 468.3 890.6 470.0 891.5 465.1 892.1 463.7 893.2 462.7 894.3 463.6 895.2 464.4 896.2 461.5 897.5 458.1 898.1 461.7 899.1 456.3 900.3 451.6 901.0 454.2 902.1 453.4 902.4 454.1 903.8 451.7 904.8 448.2 905.4 448.4 906.2 446.5 907.3 445.6 907.9 444.1 908.7 442.8 909.8 439.9 910.4 441.0 911.3 440.1 912.1 437.9 912.7 436.5 913.9 435.5 914.9 435.4 916.1 433.7 917.0 433.0 918.3 431.9 919.1 430.5 920.3 428.9 921.6 427.8 922.2 427.3 923.4 425.6 924.3 425.7 925.3 423.4 926.4 422.6 927.6 419.5 928.5 420.7 929.7 419.5 930.9 419.2 931.8 419.4 932.9 416.3 933.8 415.9 934.7 414.7 936.0 412.9 936.7 412.5 937.8 410.4 938.9 409.8 939.9 408.3 941.2 407.4 942.3 406.3 943.6 406.2 944.6 405.1 945.8 403.7 946.9 403.5 947.9 401.5 948.9 400.3 950.1 399.5 951.4 398.2 952.4 397.2 953.9 396.7 954.8 396.1 955.8 394.9 957.4 394.3 958.4 392.7 959.9 392.8 961.0 391.7 962.3 390.9 963.6 390.2 965.0 389.5 966.3 388.8 967.6 388.1 969.0 387.4 970.4 386.8 971.7 386.2 973.1 385.6 974.5 385.0 975.9 384.5 977.3 384.0 978.8 383.5 980.2 383.0 981.6 382.6 983.1 382.2 984.6 381.9 986.0 381.5 987.5 381.2 989.0 380.9 990.4 380.5 991.9 380.1 993.3 379.6 994.7 379.1 996.1 378.6 997.6 378.2 999.0 377.8 1000.5 377.4 1002.0 377.1 1003.4 376.8 1004.9 376.4 1006.4 376.1 1007.8 375.8 1009.3 375.4 1010.8 375.1 1012.2 374.7 1013.7 374.4 1015.2 374.0 1016.6 373.7 1018.1 373.4 1019.6 373.1 1021.1 372.8 1022.5 372.5 1024.0 372.2 1025.5 372.0 1027.0 371.7 1028.5 371.4 1029.9 371.1 1031.4 370.8 1032.9 370.6 1034.4 370.5 1035.9 370.3 1037.4 370.2 1038.9 370.1 1040.4 370.0 1041.9 369.9 1043.4 369.8 1044.9 369.7 1046.4 369.6 1047.9 369.5 1049.4 369.4 1050.9 369.3 1052.4 369.2 1053.9 369.1 1055.5 369.0 1057.0 368.9 1058.5 368.9 1060.0 368.8 1061.5 368.7 1063.0 368.6 1064.5 368.5 1066.0 368.5 1067.5 368.4 1069.0 368.3 1070.5 368.2 1072.0 368.2 1073.5 368.1 1075.0 368.0 1076.5 368.0 1078.0 367.9 1079.5 367.9 1081.0 367.8 1082.5 367.8 1084.1 367.7 1085.6 367.7 1087.1 367.6 1088.6 367.6 1090.1 367.6 1091.6 367.5 1093.1 367.5 1094.6 367.4 1096.1 367.4 1097.6 367.4 1099.1 367.3 1100.6 367.3 1102.1 367.3 1103.6 367.3 1105.1 367.2 1106.6 367.2 1108.2 367.2 1109.7 367.1 1111.2 367.1 1112.7 367.1 1114.2 367.1 1115.7 367.1 1117.2 367.1 1118.7 367.1 1120.2 367.1 1121.7 367.1 1123.2 367.1 1124.7 367.1 1126.2 367.1 1127.7 367.1 1129.2 367.1 1130.8 367.1 1132.3 367.0 1133.8 367.0 1135.3 367.0 1136.8 366.9 1138.3 366.9 1139.8 366.9 1141.3 366.8 1142.8 366.8 1144.3 366.8 1145.8 366.7 1147.3 366.6 1148.8 366.6 1150.3 366.5 1151.8 366.4 1153.3 366.3 1154.8 366.2 1156.3 366.0 1157.8 365.9 1159.3 365.7 1160.8 365.6 1162.3 365.4 1163.8 365.3 1165.3 365.2 1166.8 365.1 1168.3 365.0 1169.8 364.8 1171.3 364.7 1172.5 364.6 1174.4 364.5 1174.6 364.5 1174.6 375.8 1174.4 375.0 1172.7 375.6 1171.5 376.0 1170.1 376.5 1168.7 377.0 1167.2 377.4 1165.8 377.7 1164.3 378.1 1162.8 378.4 1161.4 378.8 1159.9 379.1 1158.4 379.4 1157.0 379.7 1155.5 379.9 1154.0 380.2 1152.5 380.5 1151.0 380.7 1149.5 380.9 1148.0 381.2 1146.6 381.4 1145.1 381.6 1143.6 381.9 1142.1 382.1 1140.6 382.3 1139.1 382.5 1137.6 382.7 1136.1 382.8 1134.6 383.0 1133.1 383.2 1131.6 383.3 1130.1 383.5 1128.6 383.6 1127.1 383.8 1125.6 383.9 1124.1 384.1 1122.6 384.2 1121.1 384.4 1119.6 384.5 1118.1 384.6 1116.6 384.7 1115.1 384.8 1113.6 384.8 1112.1 384.9 1110.6 385.0 1109.1 385.1 1107.6 385.1 1106.1 385.2 1104.6 385.3 1103.1 385.4 1101.6 385.4 1100.1 385.5 1098.6 385.6 1097.1 385.7 1095.6 385.7 1094.1 385.8 1092.6 385.9 1091.1 386.0 1089.6 386.0 1088.0 386.1 1086.5 386.2 1085.0 386.2 1083.5 386.3 1082.0 386.4 1080.5 386.4 1079.0 386.4 1077.5 386.5 1076.0 386.5 1074.5 386.6 1073.0 386.6 1071.5 386.7 1070.0 386.7 1068.5 386.8 1067.0 386.8 1065.5 386.9 1064.0 387.0 1062.5 387.1 1061.0 387.2 1059.5 387.2 1058.0 387.3 1056.5 387.4 1055.0 387.5 1053.4 387.6 1051.9 387.7 1050.4 387.8 1048.9 387.8 1047.4 387.9 1045.9 388.0 1044.4 388.1 1042.9 388.2 1041.4 388.2 1039.9 388.3 1038.4 388.4 1036.9 388.4 1035.4 388.5 1033.9 388.6 1032.4 388.6 1030.9 388.7 1029.4 388.7 1027.9 388.7 1026.4 388.8 1024.9 388.8 1023.4 388.9 1021.9 389.0 1020.4 389.1 1018.8 389.2 1017.3 389.3 1015.8 389.4 1014.3 389.5 1012.8 389.6 1011.3 389.7 1009.8 389.9 1008.3 390.1 1006.9 390.3 1005.4 390.5 1003.9 390.7 1002.4 390.9 1000.9 391.2 999.4 391.4 997.9 391.6 996.4 391.9 995.0 392.2 993.5 392.4 992.0 392.8 990.5 393.1 989.1 393.5 987.6 393.9 986.2 394.3 984.8 394.8 983.3 395.2 981.9 395.6 980.4 396.0 979.0 396.5 977.6 397.0 976.2 397.6 974.8 398.2 973.5 398.9 972.2 399.6 970.9 400.3 969.6 401.1 968.3 402.0 967.1 402.8 965.9 403.7 964.7 404.6 963.5 405.6 962.3 406.5 961.2 407.5 960.1 408.5 959.0 409.5 958.1 410.4 956.8 412.1 955.8 412.6 954.7 413.0 953.8 414.6 952.5 416.0 951.4 416.4 950.5 417.8 949.5 419.8 948.5 420.2 947.5 421.2 946.6 423.2 945.7 423.9 944.6 425.3 943.8 426.2 942.7 427.3 941.6 427.8 940.7 429.0 939.5 430.3 938.7 432.0 937.7 434.3 936.6 433.8 935.7 435.2 934.9 436.9 934.0 438.3 933.3 438.5 932.6 442.1 931.7 441.4 930.5 442.9 929.8 443.7 928.7 444.3 927.8 446.2 926.9 446.8 926.0 448.3 925.1 449.3 924.2 451.6 923.0 451.7 922.3 452.8 921.2 454.2 920.3 455.0 919.1 456.6 918.0 457.8 917.0 458.6 916.0 459.5 915.0 461.6 914.0 462.6 913.1 463.7 912.4 464.1 911.2 465.0 910.1 466.9 909.4 467.3 908.5 469.5 907.2 471.0 906.5 471.6 905.4 472.3 904.5 475.1 903.8 478.7 902.8 471.6 901.3 481.1 900.7 477.5 899.9 476.9 898.5 480.0 897.2 482.9 896.0 481.3 895.0 483.9 894.4 484.7 893.2 488.6 892.1 486.9 890.6 488.8 890.0 488.4 888.6 491.2 887.6 495.1 886.7 495.1 885.6 493.7 885.1 495.3 884.1 495.3 882.8 497.5 881.4 492.8 879.9 498.9 879.1 500.9 878.0 499.0 876.3 501.8 875.6 500.8 874.4 502.4 873.1 503.4 871.9 504.4 870.2 505.9 869.7 506.8 868.2 504.0 867.2 508.3 866.2 510.4 864.7 509.1 863.6 509.9 862.8 513.0 860.9 512.6 860.4 512.4 859.1 517.0 857.2 515.7 856.4 516.7 855.3 517.2 853.6 518.5 852.8 518.4 851.1 520.0 850.2 521.4 848.4 520.1 847.2 521.1 846.5 522.7 844.8 523.7 843.5 524.4 842.0 523.9 841.1 522.2 839.5 525.4 838.6 526.6 837.2 528.1 835.7 529.6 834.2 528.7 832.8 529.8 831.8 529.5 830.0 530.6 829.2 530.7 827.4 532.4 826.2 532.2 825.4 535.1 824.2 538.8 822.7 536.4 822.1 537.7 820.0 539.8 819.0 536.0 817.0 537.1 816.3 536.1 814.4 534.2 813.0 539.4 811.7 535.8 810.6 541.0 809.4 545.9 807.5 541.8 806.9 544.4 805.4 543.4 804.1 543.6 802.5 544.8 801.9 545.5 800.5 551.9 799.6 548.2 797.7 552.3 796.4 550.4 795.7 549.7 794.0 550.2 793.0 551.5 791.1 551.0 789.7 551.9 788.4 552.8 787.4 552.5 786.2 553.3 784.6 553.9 783.2 556.6 782.5 559.3 781.6 558.0 780.6 558.8 779.5 560.9 778.4 562.1 776.8 561.6 775.3 561.7 774.2 562.9 773.1 563.7 771.3 563.6 770.5 569.7 768.9 566.8 767.5 564.1 766.4 572.6 765.4 568.8 763.8 570.0 762.3 568.4 761.0 569.0 759.7 569.0 758.3 566.3 757.3 572.4 755.7 572.6 754.4 573.4 753.3 575.0 752.0 574.7 751.3 578.3 749.6 576.7 748.5 577.0"/>
</g>
</svg>
</body></html>
